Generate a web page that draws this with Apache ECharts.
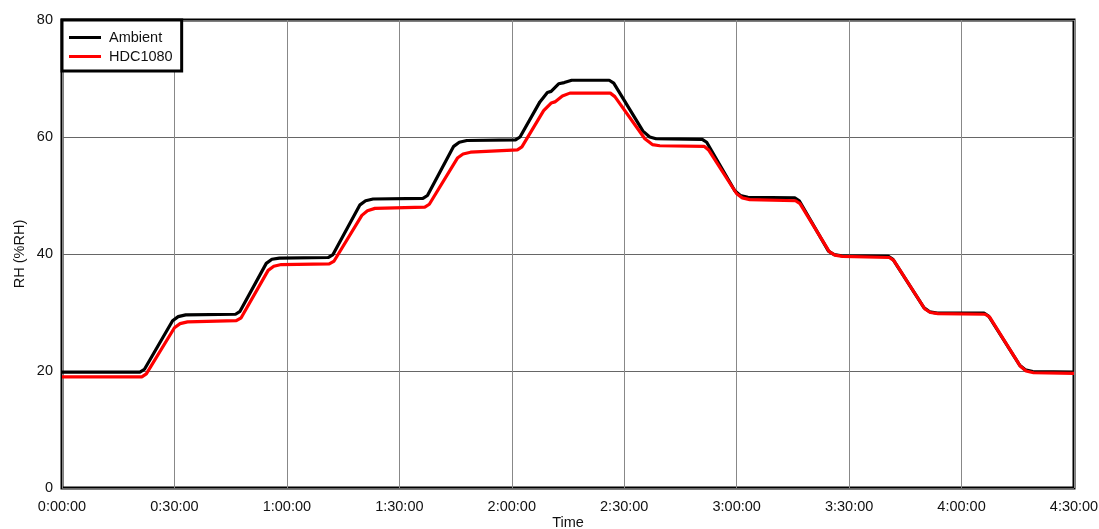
<!DOCTYPE html>
<html>
<head>
<meta charset="utf-8">
<script src="https://cdn.jsdelivr.net/npm/echarts@6/dist/echarts.min.js"></script>
<style>
html,body{margin:0;padding:0;background:#fff;}
#chart{width:1099px;height:529px;}
</style>
</head>
<body>
<div id="chart"></div>
<script>
// Time in minutes, RH in %RH
const ambientTime = [0,20.8,22,29.5,31,33,46.3,47.5,54.5,56,58,71,72.3,79.5,81,83,96.3,97.5,104.5,106,108,121,122.2,127.5,129.5,130.5,132.5,134,136,146,147.2,155,156.8,158.5,170.8,172,179.5,181,183,195.5,196.7,204.5,206,208,220.5,221.7,230,231.5,233.5,246,247.2,255.5,257,259,270];
const ambientRH   = [19.8,19.8,20.3,28.6,29.3,29.6,29.7,30.2,38.4,39.1,39.3,39.4,39.9,48.4,49.1,49.4,49.5,50,58.4,59.1,59.4,59.5,60,66,67.6,67.8,69.1,69.3,69.7,69.7,69.2,61,60,59.7,59.6,59.1,50.8,50,49.7,49.6,49.1,40.5,39.9,39.7,39.6,39.1,30.8,30.1,29.9,29.9,29.4,21,20.2,19.9,19.8];
const hdcTime = [0,21.3,22.5,30,31.5,33.5,46.5,47.8,55,56.5,58.5,71.3,72.6,80,81.5,83.5,96.8,98,105.5,107,109,121.5,122.7,128.5,130.5,131.5,133.5,135.5,146.3,147.5,155.5,157.5,159.5,171.3,172.5,180,181.5,183.5,195.7,196.9,204.7,206.2,208.2,220.7,221.9,230.2,231.7,233.7,246.3,247.5,255.7,257.2,259.2,270];
const hdcRH   = [19.0,19.0,19.5,27.4,28.1,28.4,28.6,29.1,37.2,37.9,38.2,38.3,38.8,46.6,47.4,47.8,48.0,48.5,56.4,57.1,57.4,57.8,58.3,64.5,65.8,66,67,67.5,67.5,66.9,59.7,58.7,58.5,58.4,57.8,50.3,49.6,49.3,49.1,48.6,40.4,39.8,39.6,39.4,38.9,30.6,30,29.8,29.7,29.2,20.8,20,19.7,19.6];
const seriesNames = ['Ambient','HDC1080'];
const xTickStep = 30;
const yTickStep = 20;

function pairs(t, v){ return t.map((x,i)=>[x, v[i]]); }
function fmtTime(m){
  const h = Math.floor(m/60), mm = Math.round(m%60);
  return h + ':' + String(mm).padStart(2,'0') + ':00';
}

const chart = echarts.init(document.getElementById('chart'));
const font = 'Liberation Sans, Arial, sans-serif';
const fs = 14.5;
chart.setOption({
  animation:false,
  backgroundColor:'#fff',
  grid:{left:62,right:25,top:20,bottom:41,show:true,borderColor:'#000',borderWidth:3,backgroundColor:'transparent',containLabel:false,outerBoundsMode:'none'},
  legend:{
    left:62, top:20, orient:'vertical',
    backgroundColor:'#fff',
    borderColor:'#000', borderWidth:3, borderRadius:0,
    padding:[10,9,7,7],
    itemGap:4, itemWidth:32, itemHeight:3,
    icon:'rect',
    textStyle:{fontFamily:font,fontSize:fs,color:'#111',padding:[0,0,0,3]},
    data:seriesNames
  },
  xAxis:{
    type:'value', min:0, max:270, interval:xTickStep,
    name:'Time', nameLocation:'middle', nameGap:27, nameMoveOverlap:false,
    nameTextStyle:{fontFamily:font,fontSize:fs,color:'#111'},
    axisLine:{show:false},
    axisTick:{show:false},
    axisLabel:{formatter:fmtTime,fontFamily:font,fontSize:fs,color:'#111',margin:11},
    splitLine:{show:true,lineStyle:{color:'#888',width:1}}
  },
  yAxis:{
    type:'value', min:0, max:80, interval:yTickStep,
    name:'RH (%RH)', nameLocation:'middle', nameGap:35, nameRotate:90, nameMoveOverlap:false,
    nameTextStyle:{fontFamily:font,fontSize:fs,color:'#111'},
    axisLine:{show:false},
    axisTick:{show:false},
    axisLabel:{fontFamily:font,fontSize:fs,color:'#111',margin:9},
    splitLine:{show:true,lineStyle:{color:'#666',width:1}}
  },
  series:[
    {name:seriesNames[0],type:'line',data:pairs(ambientTime,ambientRH),showSymbol:false,symbol:'none',lineStyle:{color:'#000',width:3.2},itemStyle:{color:'#000'},z:2},
    {name:seriesNames[1],type:'line',data:pairs(hdcTime,hdcRH),showSymbol:false,symbol:'none',lineStyle:{color:'#ff0000',width:3.2},itemStyle:{color:'#ff0000'},z:3}
  ]
});
</script>
</body>
</html>
